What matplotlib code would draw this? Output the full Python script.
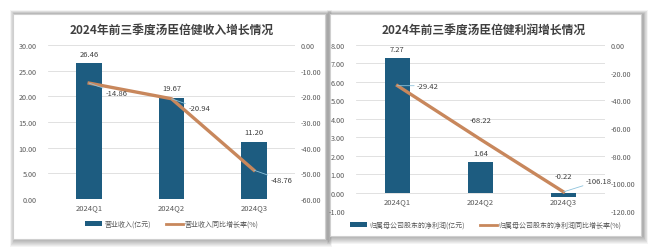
import numpy as np
import matplotlib
matplotlib.use("Agg")
import matplotlib.pyplot as plt
from matplotlib.patches import Rectangle, Patch
from matplotlib.lines import Line2D

plt.rcParams['font.family'] = ['Noto Sans CJK SC', 'DejaVu Sans']

quarters = ['2024Q1', '2024Q2', '2024Q3']
revenue = [26.46, 19.67, 11.20]
revenue_yoy = [-14.86, -20.94, -48.76]
profit = [7.27, 1.64, -0.22]
profit_yoy = [-29.42, -68.22, -106.18]

titles = ['2024年前三季度汤臣倍健收入增长情况', '2024年前三季度汤臣倍健利润增长情况']
bar_names = ['营业收入(亿元)', '归属母公司股东的净利润(亿元)']
line_names = ['营业收入同比增长率(%)', '归属母公司股东的净利润同比增长率(%)']

BAR = '#1d5c80'
LINE = '#c8875c'
TXT = '#595959'
GRID = '#dcdcdc'

W, H = 658, 251
fig = plt.figure(figsize=(W / 100, H / 100), dpi=100)
fig.patch.set_facecolor('white')


def px_rect(x0, y0, x1, y1):
    return [x0 / W, 1 - y1 / H, (x1 - x0) / W, (y1 - y0) / H]


# panel frames with a soft shadow (heavier to the right / bottom)
for (x0, y0, x1, y1) in [(13, 15, 325, 240), (330, 15, 641, 237)]:
    for k in range(8, 0, -1):
        fig.patches.append(Rectangle(((x0 - k * 0.6 + 2) / W, 1 - (y1 + k) / H),
                                     (x1 - x0 + k * 1.2) / W, (y1 - y0 + k * 1.5) / H,
                                     transform=fig.transFigure, facecolor='#000000',
                                     alpha=0.045, edgecolor='none', zorder=-3))
    fig.patches.append(Rectangle((x0 / W, 1 - y1 / H), (x1 - x0) / W, (y1 - y0) / H,
                                 transform=fig.transFigure, facecolor='white',
                                 edgecolor='#cfcfcf', linewidth=0.8, zorder=-2))


def style(ax, axr):
    for a in (ax, axr):
        for s in a.spines.values():
            s.set_visible(False)
        a.tick_params(length=0, labelsize=5.2, colors=TXT)
        a.patch.set_visible(False)
    ax.tick_params(axis='y', pad=8)
    axr.tick_params(axis='y', pad=4)
    ax.set_xticks([])
    ax.grid(axis='y', color=GRID, linewidth=0.6)
    ax.set_axisbelow(True)
    ax.set_xlim(-0.5, 2.5)


x = np.arange(len(quarters))

# ---- left chart
ax1 = fig.add_axes(px_rect(48, 46, 295, 200))
ax1r = ax1.twinx()
ax1.bar(x, revenue, width=0.31, color=BAR, zorder=2)
ax1.set_ylim(0, 30)
ax1.set_yticks(np.arange(0, 31, 5))
ax1.set_yticklabels(['%.2f' % v for v in np.arange(0, 31, 5)])
ax1r.plot(x, revenue_yoy, color=LINE, linewidth=2.4, zorder=3)
ax1r.set_ylim(-60, 0)
ax1r.set_yticks(np.arange(-60, 1, 10))
ax1r.set_yticklabels(['%.2f' % v for v in np.arange(-60, 1, 10)])
style(ax1, ax1r)
for i, v in enumerate(revenue):
    ax1.annotate('%.2f' % v, (x[i], v), xytext=(0, 4), textcoords='offset points',
                 ha='center', va='bottom', fontsize=5.5, color='#404040')
for i, v in enumerate(revenue_yoy):
    ax1r.annotate('%.2f' % v, (x[i], v), xytext=(12, -7), textcoords='offset points',
                  ha='left', va='center', fontsize=5.5, color='#404040',
                  arrowprops=dict(arrowstyle='-', color='#8ec3dc', lw=0.6,
                                  shrinkA=0, shrinkB=0))
for i, q in enumerate(quarters):
    ax1.annotate(q, (x[i], 0), xytext=(0, -3), textcoords='offset points',
                 ha='center', va='top', fontsize=5.5, color=TXT, annotation_clip=False)

# ---- right chart
ax2 = fig.add_axes(px_rect(356, 46, 605, 212))
ax2r = ax2.twinx()
ax2.bar(x, profit, width=0.31, color=BAR, zorder=2)
ax2.set_ylim(-1, 8)
ax2.set_yticks(np.arange(-1, 9, 1))
ax2.set_yticklabels(['%.2f' % v for v in np.arange(-1, 9, 1)])
ax2r.plot(x, profit_yoy, color=LINE, linewidth=2.4, zorder=3)
ax2r.set_ylim(-120, 0)
ax2r.set_yticks(np.arange(-120, 1, 20))
ax2r.set_yticklabels(['%.2f' % v for v in np.arange(-120, 1, 20)])
style(ax2, ax2r)
ax2.annotate('%.2f' % profit[0], (x[0], profit[0]), xytext=(0, 4), textcoords='offset points',
             ha='center', va='bottom', fontsize=5.5, color='#404040')
ax2.annotate('%.2f' % profit[1], (x[1], profit[1]), xytext=(0, 4), textcoords='offset points',
             ha='center', va='bottom', fontsize=5.5, color='#404040')
ax2.annotate('%.2f' % profit[2], (x[2], 0), xytext=(0, 9), textcoords='offset points',
             ha='center', va='bottom', fontsize=5.5, color='#404040')
ax2r.annotate('%.2f' % profit_yoy[0], (x[0], profit_yoy[0]), xytext=(14, 0),
              textcoords='offset points', ha='left', va='center', fontsize=5.5,
              color='#404040',
              arrowprops=dict(arrowstyle='-', color='#8ec3dc', lw=0.6, shrinkA=0, shrinkB=0))
ax2r.annotate('%.2f' % profit_yoy[1], (x[1], profit_yoy[1]), xytext=(0, 14),
              textcoords='offset points', ha='center', va='center', fontsize=5.5,
              color='#404040')
ax2r.annotate('%.2f' % profit_yoy[2], (x[2], profit_yoy[2]), xytext=(16, 8),
              textcoords='offset points', ha='left', va='center', fontsize=5.5,
              color='#404040',
              arrowprops=dict(arrowstyle='-', color='#8ec3dc', lw=0.6, shrinkA=0, shrinkB=0))
for i, q in enumerate(quarters):
    ax2.annotate(q, (x[i], 0), xytext=(0, -3), textcoords='offset points',
                 ha='center', va='top', fontsize=5.5, color=TXT)

# titles
fig.text(172 / W, 1 - 30 / H, titles[0], ha='center', va='center', fontsize=8.5,
         fontweight='bold', color='#404040')
fig.text(484 / W, 1 - 30 / H, titles[1], ha='center', va='center', fontsize=8.5,
         fontweight='bold', color='#404040')

# legends
for cx, cy, bn, ln in [(172, 225, bar_names[0], line_names[0]),
                       (486, 226, bar_names[1], line_names[1])]:
    handles = [Patch(facecolor=BAR, edgecolor='none'),
               Line2D([0], [0], color=LINE, linewidth=2)]
    leg = fig.legend(handles, [bn, ln], loc='center', bbox_to_anchor=(cx / W, 1 - cy / H),
                     ncol=2, frameon=False, fontsize=5, handlelength=2.4, handleheight=0.6,
                     columnspacing=2.2, handletextpad=0.3)
    for t in leg.get_texts():
        t.set_color(TXT)

fig.savefig('out.png', dpi=100, facecolor='white')
